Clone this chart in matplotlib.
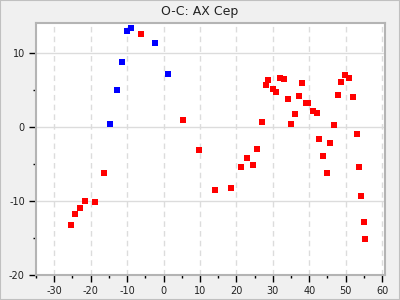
import matplotlib
matplotlib.use('Agg')
import matplotlib.pyplot as plt
import matplotlib.ticker as tck
from matplotlib.patches import Rectangle

# --- Data ---
blue_x = [-14.7, -12.8, -11.4, -10.05, -8.95, -2.4, 1.2]
blue_y = [0.37, 4.97, 8.77, 12.98, 13.4, 11.35, 7.15]

red_x = [-25.4, -24.3, -22.9, -21.6, -18.8, -16.4, -6.2, 5.3, 9.7, 14.1,
         18.4, 21.2, 22.8, 24.5, 25.8, 26.9, 28.0, 28.8, 29.95, 31.0,
         31.9, 33.0, 34.05, 34.9, 36.0, 37.07, 37.9, 39.0, 39.8, 40.9,
         42.0, 42.8, 43.9, 45.0, 45.8, 46.9, 48.0, 48.85, 49.95, 51.0,
         51.9, 53.0, 53.8, 54.3, 54.9, 55.4]
red_y = [-13.3, -11.7, -10.9, -9.95, -10.1, -6.28, 12.57, 0.9, -3.12, -8.46,
         -8.3, -5.34, -4.25, -5.2, -2.98, 0.63, 5.65, 6.33, 5.1, 4.7,
         6.6, 6.47, 3.76, 0.37, 1.72, 4.17, 5.93, 3.2, 3.2, 2.12,
         1.86, -1.67, -3.98, -6.28, -2.21, 0.23, 4.3, 6.06, 7.0, 6.6,
         4.03, -0.99, -5.34, -9.27, -12.8, -15.2]

x_ticks = [-30, -20, -10, 0, 10, 20, 30, 40, 50, 60]
y_ticks = [-20, -10, 0, 10]
title = 'O-C: AX Cep'

# === Plot ===
fig = plt.figure(figsize=(4, 3), dpi=100, facecolor='#f0f0f0')
ax = fig.add_axes([36/400, 25/300, 349/400, 252/300])
ax.set_facecolor('white')

ax.scatter(red_x, red_y, marker='s', s=22, color='#ff0000', linewidths=0, zorder=3)
ax.scatter(blue_x, blue_y, marker='s', s=22, color='#0000ff', linewidths=0, zorder=3)

ax.set_xlim(-35, 60.8)
ax.set_ylim(-20, 14.05)

ax.set_xticks(x_ticks)
ax.set_yticks(y_ticks)
ax.set_xticklabels([str(v) for v in x_ticks])
ax.set_yticklabels([str(v) for v in y_ticks])
ax.xaxis.set_minor_locator(tck.MultipleLocator(5))
ax.yaxis.set_minor_locator(tck.MultipleLocator(5))

# --- Grid ---
ax.grid(True, which='major', axis='x', color='#dcdcdc', linestyle=(0, (4, 3)), linewidth=1)
ax.grid(True, which='major', axis='y', color='#dcdcdc', linestyle='-', linewidth=1)
ax.set_axisbelow(True)

ax.tick_params(which='major', direction='out', length=5, width=1, color='black',
               labelsize=7, pad=3, labelcolor='#222222')
ax.tick_params(which='minor', direction='out', length=2.5, width=1, color='black')

for side in ['left', 'right', 'top', 'bottom']:
    ax.spines[side].set_color('#b4b4b4')
    ax.spines[side].set_linewidth(1.5)

fig.text(0.5, 1 - 11/300, title, ha='center', va='center', fontsize=9, color='#222222')

# --- Outer border ---
fig.patches.append(Rectangle((0, 0), 1, 1, transform=fig.transFigure, fill=False,
                             edgecolor='#c0c0c0', linewidth=1.5))

fig.savefig('out.png', dpi=100, facecolor=fig.get_facecolor())
